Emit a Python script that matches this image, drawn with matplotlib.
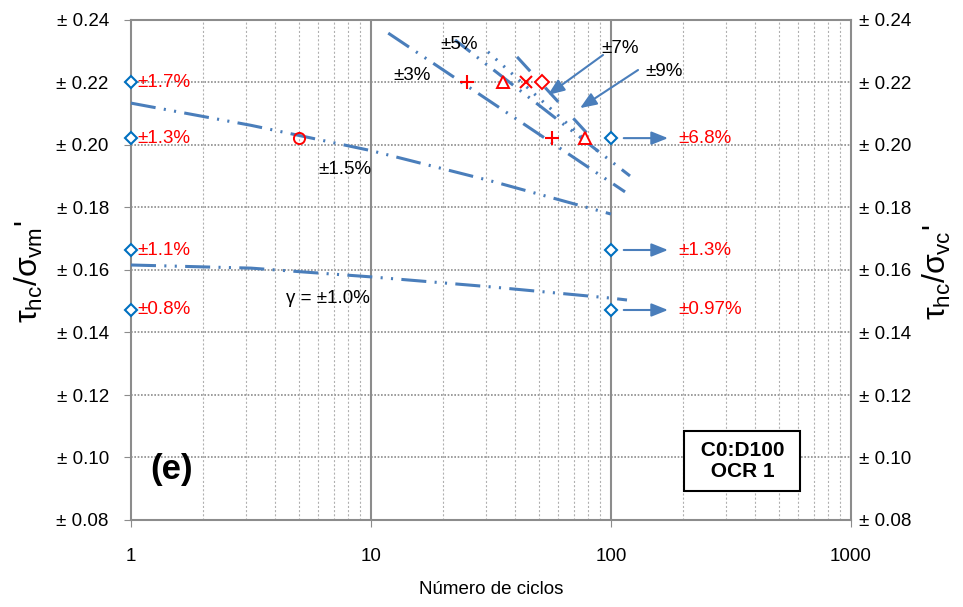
import numpy as np
import matplotlib
matplotlib.use("Agg")
import matplotlib.pyplot as plt
from matplotlib.ticker import FixedLocator, NullFormatter

plt.rcParams['font.family'] = ['Liberation Sans', 'DejaVu Sans']
plt.rcParams['mathtext.fontset'] = 'custom'
plt.rcParams['mathtext.rm'] = 'Liberation Sans'
plt.rcParams['mathtext.it'] = 'Liberation Sans'
plt.rcParams['lines.scale_dashes'] = False

LINE_BLUE = '#4a7ebb'
DIAM_BLUE = '#0070c0'
GRID_GRAY = '#8c8c8c'
FS = 13.5

# --- data ---
yticks = [0.08, 0.10, 0.12, 0.14, 0.16, 0.18, 0.20, 0.22, 0.24]
xticks = [1, 10, 100, 1000]

# blue open diamonds at N=1 and N=100
diam1_y = [0.2200, 0.2022, 0.1664, 0.1472]
diam1_lab = ['±1.7%', '±1.3%', '±1.1%', '±0.8%']
diam100_y = [0.2022, 0.1664, 0.1472]
diam100_lab = ['±6.8%', '±1.3%', '±0.97%']

# red markers (N, tau/sigma)
red_circle = (5.0, 0.2022)
red_plus = ([25.0, 56.8], [0.2200, 0.2022])
red_tri = ([35.5, 77.9], [0.2200, 0.2022])
red_x = ([44.2], [0.2200])
red_diam = ([51.6], [0.2200])

# trend lines
g10_x = [1.0, 3.16, 10.0, 31.6, 100.0, 116.6]
g10_y = [0.1616, 0.1606, 0.1578, 0.1546, 0.1510, 0.1504]
g15_x = [1.0, 3.16, 10.0, 31.6, 100.0]
g15_y = [0.2134, 0.2063, 0.1982, 0.1885, 0.1779]
g3_x = [11.8, 114.4]
g3_y = [0.2358, 0.1850]
g5_x = [22.4, 120.0]
g5_y = [0.2336, 0.1901]
g7_x = [30.7, 91.7]
g7_y = [0.2298, 0.1968]
g9_x = [40.6, 80.0]
g9_y = [0.2282, 0.2035]

fig = plt.figure(figsize=(9.63, 6.07), dpi=100)
ax = fig.add_axes([131/963, 1-520/607, 720/963, 500/607])
ax.set_xscale('log')
ax.set_xlim(1, 1000)
ax.set_ylim(0.08, 0.24)

# grid
ax.xaxis.set_minor_locator(FixedLocator([m*10**k for k in range(0, 3) for m in range(2, 10)]))
ax.xaxis.set_minor_formatter(NullFormatter())
ax.grid(True, which='minor', axis='x', color='#b0b0b0', linestyle=(0, (1.5, 1.5)), linewidth=0.8)
for xv in [10, 100]:
    ax.axvline(xv, color=GRID_GRAY, linewidth=1.5, zorder=1)
for yv in yticks[1:-1]:
    ax.axhline(yv, color=GRID_GRAY, linestyle=(0, (1.2, 1.2)), linewidth=1.2, zorder=1)

for s in ax.spines.values():
    s.set_color(GRID_GRAY)
    s.set_linewidth(1.5)

ax.set_yticks(yticks)
ax.set_yticklabels(['± %.2f' % v for v in yticks])
ax.set_xticks(xticks)
ax.set_xticklabels([str(v) for v in xticks])
ax.tick_params(axis='y', which='major', direction='out', length=5, color=GRID_GRAY,
               labelsize=FS, pad=11)
ax.tick_params(axis='x', which='major', direction='out', length=5, color=GRID_GRAY,
               labelsize=FS, pad=15)
ax.tick_params(axis='x', which='minor', length=0)

ax2 = ax.twinx()
ax2.set_ylim(0.08, 0.24)
ax2.set_yticks(yticks)
ax2.set_yticklabels(['± %.2f' % v for v in yticks])
ax2.tick_params(axis='y', length=0, labelsize=FS, pad=6)
for s in ax2.spines.values():
    s.set_visible(False)

# trend lines
dash_dot_dot = (0, (18, 6, 1.5, 6, 1.5, 6))
ax.plot(g10_x, g10_y, color=LINE_BLUE, lw=2.2, ls=dash_dot_dot, zorder=3)
ax.plot(g15_x, g15_y, color=LINE_BLUE, lw=2.2, ls=dash_dot_dot, zorder=3)
ax.plot(g3_x, g3_y, color=LINE_BLUE, lw=2.2, ls=dash_dot_dot, zorder=3)
ax.plot(g5_x, g5_y, color=LINE_BLUE, lw=2.2, ls=(4, (18, 6, 1.5, 6, 1.5, 6)), zorder=3)
ax.plot(g7_x, g7_y, color=LINE_BLUE, lw=2.2, ls=(0, (1.5, 6)), zorder=3)
ax.plot(g9_x, g9_y, color=LINE_BLUE, lw=2.2, ls=(0, (14, 16)), zorder=3)

# markers
ax.plot([1]*len(diam1_y), diam1_y, 'D', ms=6.5, mfc='white', mec=DIAM_BLUE, mew=1.5,
        clip_on=False, zorder=5)
ax.plot([100]*len(diam100_y), diam100_y, 'D', ms=6.5, mfc='white', mec=DIAM_BLUE, mew=1.5,
        zorder=5)
ax.plot(*red_circle, 'o', ms=8, mfc='none', mec='red', mew=1.4, zorder=5)
ax.plot(*red_plus, '+', ms=10, mec='red', mew=1.5, zorder=5)
ax.plot(*red_tri, '^', ms=9, mfc='white', mec='red', mew=1.4, zorder=5)
ax.plot(*red_x, 'x', ms=8, mec='red', mew=1.5, zorder=5)
ax.plot(*red_diam, 'D', ms=7, mfc='white', mec='red', mew=1.4, zorder=5)

arrow_props = dict(arrowstyle='-|>,head_length=1.0,head_width=0.4', color=LINE_BLUE,
                   lw=1.5, shrinkA=0, shrinkB=0)

# labels for diamonds
for y, t in zip(diam1_y, diam1_lab):
    ax.text(1.06, y, t, color='red', fontsize=FS, va='center', ha='left', zorder=6)
for y, t in zip(diam100_y, diam100_lab):
    ax.annotate('', xy=(172.8, y), xytext=(113, y), arrowprops=arrow_props)
    ax.text(190, y, t, color='red', fontsize=FS, va='center', ha='left')

# line labels
ax.text(23.3, 0.2323, '±5%', fontsize=FS, ha='center', va='center')
ax.text(14.8, 0.2224, '±3%', fontsize=FS, ha='center', va='center')
ax.text(109, 0.2310, '±7%', fontsize=FS, ha='center', va='center')
ax.text(166, 0.2234, '±9%', fontsize=FS, ha='center', va='center')
ax.text(7.8, 0.1920, '±1.5%', fontsize=FS, ha='center', va='center')
ax.text(6.6, 0.1510, 'γ = ±1.0%', fontsize=FS, ha='center', va='center')

ax.annotate('', xy=(54.6, 0.2160), xytext=(92.6, 0.2288), arrowprops=arrow_props)
ax.annotate('', xy=(74.3, 0.2118), xytext=(129.6, 0.2240), arrowprops=arrow_props)

ax.text(0.057, 0.10, '(e)', transform=ax.transAxes, fontsize=25, fontweight='bold',
        ha='center', va='center')
ax.text(0.849, 0.118, ' C0:D100 \n OCR 1 ', transform=ax.transAxes, fontsize=15,
        fontweight='bold', ha='center', va='center', linespacing=1.1,
        bbox=dict(boxstyle='square,pad=0.5', fc='white', ec='black', lw=1.5))

ax.set_xlabel('Número de ciclos', fontsize=FS, labelpad=12)
fig.text(29/963, 1-272/607, r"$\tau_{hc}/\sigma_{vm}$'", rotation=90, fontsize=23,
         ha='center', va='center')
fig.text(937/963, 1-272/607, r"$\tau_{hc}/\sigma_{vc}$'", rotation=90, fontsize=23,
         ha='center', va='center')

fig.savefig('out.png', dpi=100)
